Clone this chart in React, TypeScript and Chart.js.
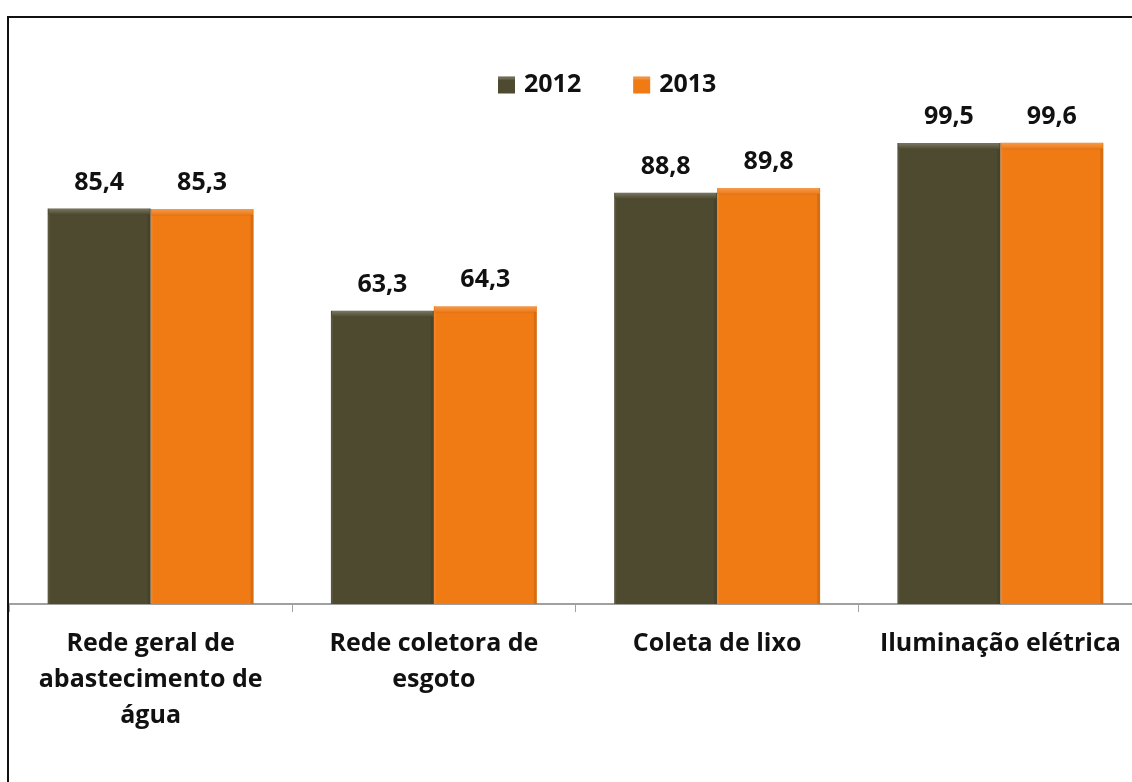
import React, { useEffect, useRef } from "react";
import { Chart, registerables } from "chart.js";

Chart.register(...registerables);

const categories: string[][] = [
  ["Rede geral de", "abastecimento de", "água"],
  ["Rede coletora de", "esgoto"],
  ["Coleta de lixo"],
  ["Iluminação elétrica"],
];
const seriesNames = ["2012", "2013"];
const values2012 = [85.4, 63.3, 88.8, 99.5];
const values2013 = [85.3, 64.3, 89.8, 99.6];
const colors = ["#4E4A30", "#F07A14"];

const FONT = "'Open Sans', 'Noto Sans', sans-serif";

const valueLabels = {
  id: "valueLabels",
  afterDatasetsDraw(chart: any) {
    const ctx = chart.ctx;
    ctx.save();
    // subtle bevel on bars
    chart.data.datasets.forEach((_ds: any, i: number) => {
      const meta = chart.getDatasetMeta(i);
      meta.data.forEach((bar: any) => {
        const left = bar.x - bar.width / 2;
        const w = bar.width;
        const top = bar.y;
        const h = bar.base - bar.y;
        const g = ctx.createLinearGradient(0, top, 0, top + 7);
        g.addColorStop(0, "rgba(255,255,255,0.25)");
        g.addColorStop(0.6, "rgba(255,255,255,0.08)");
        g.addColorStop(1, "rgba(0,0,0,0.06)");
        ctx.fillStyle = g;
        ctx.fillRect(left + 1, top, w - 2, 7);
        ctx.fillStyle = "rgba(0,0,0,0.10)";
        ctx.fillRect(left + w - 3, top + 6, 3, h - 6);
        ctx.fillStyle = "rgba(255,255,255,0.07)";
        ctx.fillRect(left, top + 6, 2, h - 6);
      });
    });
    ctx.font = `bold 25px ${FONT}`;
    ctx.fillStyle = "#111";
    ctx.textAlign = "center";
    ctx.textBaseline = "middle";
    chart.data.datasets.forEach((ds: any, i: number) => {
      const meta = chart.getDatasetMeta(i);
      meta.data.forEach((bar: any, j: number) => {
        const v = ds.data[j] as number;
        ctx.fillText(v.toFixed(1).replace(".", ","), bar.x, bar.y - 26);
      });
    });
    ctx.restore();
  },
};

const customLegend = {
  id: "customLegend",
  afterDraw(chart: any) {
    const ctx = chart.ctx;
    ctx.save();
    ctx.font = `bold 25px ${FONT}`;
    ctx.textBaseline = "middle";
    ctx.textAlign = "left";
    let x = chart.chartArea.left + 489;
    const cy = 67;
    chart.data.datasets.forEach((ds: any) => {
      ctx.fillStyle = ds.backgroundColor;
      ctx.fillRect(x, cy - 8.5, 17, 17);
      ctx.fillStyle = "rgba(255,255,255,0.18)";
      ctx.fillRect(x, cy - 8.5, 17, 3);
      x += 17 + 9;
      ctx.fillStyle = "#111";
      ctx.fillText(ds.label, x, cy);
      x += ctx.measureText(ds.label).width + 52;
    });
    ctx.restore();
  },
};

export default function App() {
  const ref = useRef<HTMLCanvasElement | null>(null);
  useEffect(() => {
    if (!ref.current) return;
    const chart = new Chart(ref.current, {
      type: "bar",
      data: {
        labels: categories,
        datasets: [
          { label: seriesNames[0], data: values2012, backgroundColor: colors[0] },
          { label: seriesNames[1], data: values2013, backgroundColor: colors[1] },
        ],
      },
      options: {
        animation: false,
        responsive: true,
        maintainAspectRatio: false,
        datasets: { bar: { categoryPercentage: 0.727, barPercentage: 1.0 } },
        layout: { padding: { top: 7, bottom: 10, left: 0, right: 0 } },
        plugins: {
          legend: { display: false },
          tooltip: { enabled: false },
        },
        scales: {
          x: {
            offset: true,
            border: { display: true, color: "#A0A0A0", width: 2 },
            grid: {
              offset: true,
              drawOnChartArea: false,
              drawTicks: true,
              tickLength: 8,
              color: "#A0A0A0",
              lineWidth: 1,
            },
            ticks: {
              padding: 14,
              color: "#111",
              maxRotation: 0,
              autoSkip: false,
              font: { family: FONT, size: 25, weight: "bold", lineHeight: 1.44 },
            },
          },
          y: {
            display: false,
            min: 0,
            max: 125,
          },
        },
      },
      plugins: [valueLabels, customLegend],
    });
    return () => chart.destroy();
  }, []);

  return (
    <div
      style={{
        position: "fixed",
        left: 0,
        top: 0,
        width: 1132,
        height: 782,
        overflow: "hidden",
        background: "#fff",
      }}
    >
      <div
        style={{
          position: "absolute",
          left: 7,
          top: 16,
          width: 1200,
          height: 820,
          border: "2px solid #111",
          boxSizing: "border-box",
        }}
      />
      <div style={{ position: "absolute", left: 9, top: 18, width: 1133, height: 740 }}>
        <canvas ref={ref} />
      </div>
    </div>
  );
}
